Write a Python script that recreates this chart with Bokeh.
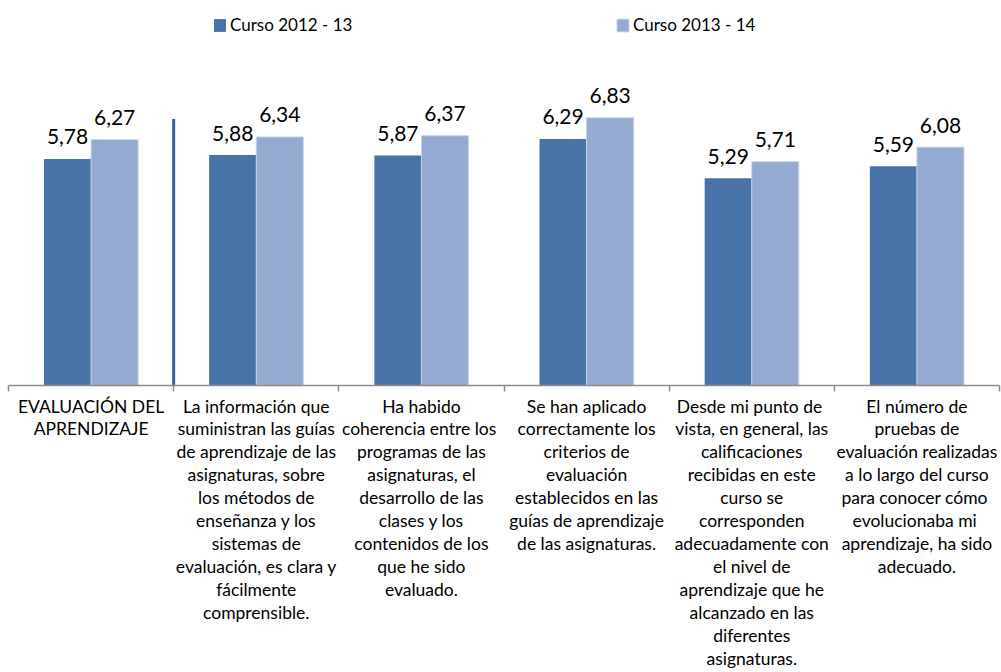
from bokeh.plotting import figure
from bokeh.models import (ColumnDataSource, FixedTicker, LinearAxis, Legend,
                          LegendItem, Range1d)
from bokeh.transform import dodge
from bokeh.core.properties import value
from bokeh.embed import file_html
from bokeh.resources import INLINE

# ---------------- data ----------------
categories = [
    "EVALUACIÓN DEL\nAPRENDIZAJE",
    "La información que\nsuministran las guías\nde aprendizaje de las\nasignaturas, sobre\nlos métodos de\nenseñanza y los\nsistemas de\nevaluación, es clara y\nfácilmente\ncomprensible.",
    "Ha habido\ncoherencia entre  los\nprogramas de las\nasignaturas, el\ndesarrollo de las\nclases y los\ncontenidos de los\nque he sido\nevaluado.",
    "Se han aplicado\ncorrectamente los\ncriterios de\nevaluación\nestablecidos en las\nguías de aprendizaje\nde las asignaturas.",
    "Desde mi punto  de\nvista, en general, las\ncalificaciones\nrecibidas en este\ncurso se\ncorresponden\nadecuadamente con\nel nivel de\naprendizaje que he\nalcanzado en las\ndiferentes\nasignaturas.",
    "El número de\npruebas de\nevaluación realizadas\na lo largo del curso\npara conocer  cómo\nevolucionaba  mi\naprendizaje, ha sido\nadecuado.",
]
series_names = ["Curso 2012 - 13", "Curso 2013 - 14"]
curso_2012_13 = [5.78, 5.88, 5.87, 6.29, 5.29, 5.59]
curso_2013_14 = [6.27, 6.34, 6.37, 6.83, 5.71, 6.08]
separator_x = [1.0]          # vertical separator after first category
separator_top = [6.8]

# ---------------- styles ----------------
FONT = "Lato"
DARK = "#4773A8"
LIGHT = "#94AAD0"
SEP = "#3F6096"
GRAY = "#8C8C8C"

n = len(categories)
centers = [i + 0.5 for i in range(n)]
boundaries = list(range(n + 1))

fmt = lambda v: f"{v:.2f}".replace(".", ",")
src = ColumnDataSource(dict(
    x=centers,
    a=curso_2012_13,
    b=curso_2013_14,
    la=[fmt(v) for v in curso_2012_13],
    lb=[fmt(v) for v in curso_2013_14],
))

W, H = 1001, 672
BOTTOM = 287
PX_PER_UNIT = 39.2
p = figure(width=W, height=H,
           x_range=Range1d(0, n), y_range=Range1d(0, (H - BOTTOM) / PX_PER_UNIT),
           output_backend="svg", toolbar_location=None,
           x_axis_location=None, y_axis_location=None,
           min_border_left=8, min_border_right=2, min_border_top=0,
           min_border_bottom=BOTTOM)
p.outline_line_color = None
p.xgrid.visible = False
p.ygrid.visible = False
p.background_fill_color = "white"
p.border_fill_color = "white"

bw = 0.285
off = bw / 2
r1 = p.vbar(x=dodge("x", -off), top="a", width=bw, source=src,
            fill_color=DARK, line_color=None)
r2 = p.vbar(x=dodge("x", off), top="b", width=bw, source=src,
            fill_color=LIGHT, line_color="#C9D4E8", line_width=1)

for col, lab, dx in (("a", "la", -off), ("b", "lb", off)):
    p.text(x=dodge("x", dx), y=col, text=lab, source=src,
           text_align="center", text_baseline="alphabetic", y_offset=-22,
           text_font=value(FONT), text_font_size="21px", text_color="black")

p.segment(x0=separator_x, y0=[0], x1=separator_x, y1=separator_top,
          line_color=SEP, line_width=3)

ax = LinearAxis(ticker=FixedTicker(ticks=centers, minor_ticks=boundaries),
                major_label_overrides={c: t for c, t in zip(centers, categories)})
ax.axis_line_color = GRAY
ax.axis_line_width = 1.5
ax.major_tick_out = 0
ax.major_tick_in = 0
ax.minor_tick_out = 6
ax.minor_tick_in = 0
ax.minor_tick_line_color = GRAY
ax.minor_tick_line_width = 1.5
ax.major_label_standoff = 4
ax.major_label_text_font = FONT
ax.major_label_text_font_size = "17.5px"
ax.major_label_text_line_height = 1.095
ax.major_label_text_color = "black"
ax.major_label_text_align = "center"
p.add_layout(ax, "below")

for r, name, loc in ((r1, series_names[0], (204, 350)), (r2, series_names[1], (607, 350))):
    leg = Legend(items=[LegendItem(label=name, renderers=[r])], location=loc,
                 orientation="horizontal", border_line_color=None,
                 background_fill_alpha=0, padding=0, margin=0,
                 glyph_width=15, glyph_height=16, label_standoff=3,
                 label_text_font=FONT, label_text_font_size="17px",
                 label_text_color="black")
    p.add_layout(leg)

open("out.html", "w").write(file_html(p, INLINE))
